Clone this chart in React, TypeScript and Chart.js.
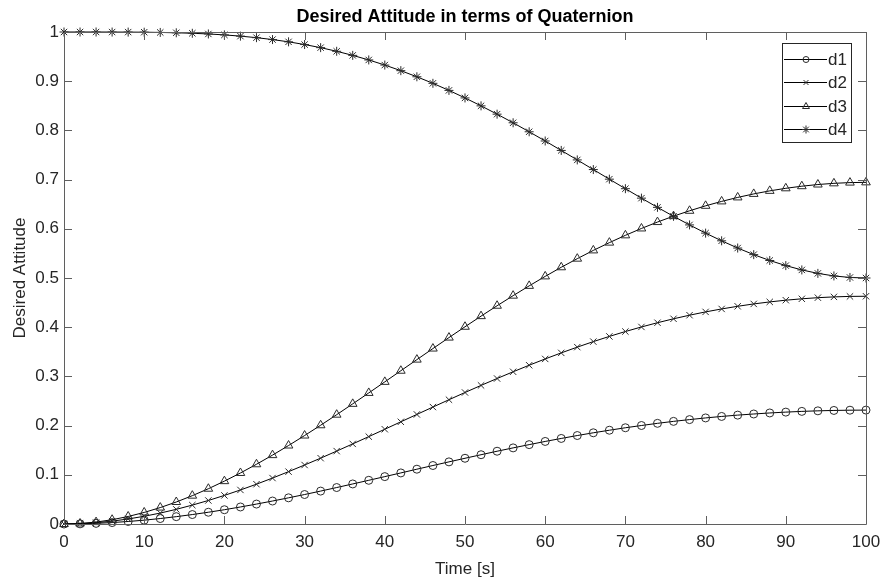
import React, { useEffect, useRef } from "react";
import { Chart, registerables } from "chart.js";

Chart.register(...registerables);

const TITLE = "Desired Attitude in terms of Quaternion";
const X_LABEL = "Time [s]";
const Y_LABEL = "Desired Attitude";

const time = [0,2,4,6,8,10,12,14,16,18,20,22,24,26,28,30,32,34,36,38,40,42,44,46,48,50,52,54,56,58,60,62,64,66,68,70,72,74,76,78,80,82,84,86,88,90,92,94,96,98,100];

const d1 = [0,0.0003,0.0013,0.0029,0.0051,0.0078,0.0111,0.0149,0.0192,0.0239,0.0290,0.0346,0.0405,0.0467,0.0532,0.0599,0.0669,0.0741,0.0814,0.0888,0.0963,0.1038,0.1114,0.1189,0.1263,0.1336,0.1408,0.1479,0.1547,0.1613,0.1678,0.1739,0.1798,0.1854,0.1906,0.1956,0.2002,0.2046,0.2086,0.2122,0.2156,0.2186,0.2213,0.2236,0.2257,0.2274,0.2289,0.2300,0.2308,0.2313,0.2315];
const d2 = [0,0.0007,0.0026,0.0058,0.0102,0.0157,0.0222,0.0298,0.0384,0.0478,0.0581,0.0692,0.0809,0.0934,0.1064,0.1199,0.1338,0.1482,0.1628,0.1776,0.1926,0.2077,0.2227,0.2377,0.2526,0.2673,0.2817,0.2957,0.3094,0.3227,0.3355,0.3478,0.3595,0.3707,0.3813,0.3912,0.4005,0.4091,0.4171,0.4244,0.4311,0.4371,0.4425,0.4473,0.4514,0.4549,0.4577,0.4600,0.4616,0.4626,0.4629];
const d3 = [0,0.0010,0.0039,0.0087,0.0153,0.0235,0.0334,0.0447,0.0576,0.0717,0.0871,0.1037,0.1214,0.1400,0.1595,0.1798,0.2007,0.2222,0.2442,0.2664,0.2889,0.3115,0.3341,0.3566,0.3789,0.4009,0.4225,0.4436,0.4641,0.4840,0.5033,0.5218,0.5393,0.5561,0.5719,0.5867,0.6007,0.6137,0.6257,0.6366,0.6467,0.6557,0.6638,0.6709,0.6771,0.6823,0.6866,0.6900,0.6924,0.6939,0.6944];
const d4 = [1,1.0000,1.0000,0.9999,0.9998,0.9996,0.9991,0.9984,0.9974,0.9960,0.9941,0.9916,0.9885,0.9846,0.9800,0.9745,0.9682,0.9608,0.9525,0.9432,0.9328,0.9214,0.9090,0.8957,0.8813,0.8660,0.8499,0.8330,0.8155,0.7972,0.7785,0.7593,0.7400,0.7204,0.7009,0.6815,0.6623,0.6436,0.6254,0.6079,0.5912,0.5756,0.5609,0.5475,0.5356,0.5252,0.5164,0.5094,0.5042,0.5011,0.5000];

const seriesNames = ["d1", "d2", "d3", "d4"];
const xTicks = [0,10,20,30,40,50,60,70,80,90,100];
const yTicks = [0,0.1,0.2,0.3,0.4,0.5,0.6,0.7,0.8,0.9,1];
const yTickLabels = ["0","0.1","0.2","0.3","0.4","0.5","0.6","0.7","0.8","0.9","1"];

const FONT = '"Liberation Sans", Arial, Helvetica, sans-serif';
const TEXT_COLOR = "#262626";
const AXIS_COLOR = "#5f5f5f";
const MARK_COLOR = "#2a2a2a";

const styles = [
  { pointStyle: "circle", radius: 4, legendRadius: 3 },
  { pointStyle: "crossRot", radius: 4.5, legendRadius: 3.5 },
  { pointStyle: "triangle", radius: 5, legendRadius: 4 },
  { pointStyle: "star", radius: 4.5, legendRadius: 4 },
];

function drawMarker(ctx: CanvasRenderingContext2D, style: string, x: number, y: number, r: number) {
  ctx.beginPath();
  if (style === "circle") {
    ctx.arc(x, y, r, 0, Math.PI * 2);
  } else if (style === "crossRot") {
    const o = Math.cos(Math.PI / 4) * r;
    ctx.moveTo(x - o, y - o); ctx.lineTo(x + o, y + o);
    ctx.moveTo(x - o, y + o); ctx.lineTo(x + o, y - o);
  } else if (style === "triangle") {
    const w = Math.sin(Math.PI / 3) * r;
    ctx.moveTo(x, y - r);
    ctx.lineTo(x + w, y + r / 2);
    ctx.lineTo(x - w, y + r / 2);
    ctx.closePath();
  } else {
    ctx.moveTo(x, y - r); ctx.lineTo(x, y + r);
    ctx.moveTo(x - r, y); ctx.lineTo(x + r, y);
    const o = Math.cos(Math.PI / 4) * r;
    ctx.moveTo(x - o, y - o); ctx.lineTo(x + o, y + o);
    ctx.moveTo(x - o, y + o); ctx.lineTo(x + o, y - o);
  }
  ctx.stroke();
}

const decorPlugin = {
  id: "matlabDecor",
  afterDraw(chart: any) {
    const ctx: CanvasRenderingContext2D = chart.ctx;
    const { left, right, top, bottom } = chart.chartArea;
    const xs = chart.scales.x;
    const ys = chart.scales.y;
    ctx.save();
    ctx.strokeStyle = AXIS_COLOR;
    ctx.lineWidth = 1;
    ctx.beginPath();
    ctx.rect(Math.round(left) + 0.5, Math.round(top) + 0.5, Math.round(right - left), Math.round(bottom - top));
    ctx.stroke();
    const TL = 8;
    ctx.beginPath();
    for (const v of xTicks) {
      const px = Math.round(xs.getPixelForValue(v)) + 0.5;
      ctx.moveTo(px, bottom); ctx.lineTo(px, bottom - TL);
      ctx.moveTo(px, top); ctx.lineTo(px, top + TL);
    }
    for (const v of yTicks) {
      const py = Math.round(ys.getPixelForValue(v)) + 0.5;
      ctx.moveTo(left, py); ctx.lineTo(left + TL, py);
      ctx.moveTo(right, py); ctx.lineTo(right - TL, py);
    }
    ctx.stroke();

    ctx.fillStyle = "#000";
    ctx.font = `bold 18px ${FONT}`;
    ctx.textAlign = "center";
    ctx.textBaseline = "alphabetic";
    ctx.fillText(TITLE, (left + right) / 2, 22);

    ctx.fillStyle = TEXT_COLOR;
    ctx.font = `17px ${FONT}`;
    ctx.fillText(X_LABEL, (left + right) / 2, 574);
    ctx.save();
    ctx.translate(25, (top + bottom) / 2);
    ctx.rotate(-Math.PI / 2);
    ctx.fillText(Y_LABEL, 0, 0);
    ctx.restore();

    const bx = 782, by = 43, bw = 69, bh = 99;
    ctx.fillStyle = "#fff";
    ctx.fillRect(bx, by, bw, bh);
    ctx.strokeStyle = "#262626";
    ctx.strokeRect(bx + 0.5, by + 0.5, bw, bh);
    const rowY = [59, 82, 106, 129];
    ctx.font = `17px ${FONT}`;
    ctx.textAlign = "left";
    ctx.textBaseline = "middle";
    seriesNames.forEach((name, i) => {
      const yy = rowY[i] + 0.5;
      ctx.strokeStyle = "#000";
      ctx.lineWidth = 1;
      ctx.beginPath();
      ctx.moveTo(784, yy); ctx.lineTo(827, yy);
      ctx.stroke();
      ctx.strokeStyle = MARK_COLOR;
      drawMarker(ctx, styles[i].pointStyle, 806, yy, styles[i].legendRadius);
      ctx.fillStyle = TEXT_COLOR;
      ctx.fillText(name, 828, rowY[i] + 1);
    });
    ctx.restore();
  },
};

export default function App() {
  const ref = useRef<HTMLCanvasElement | null>(null);
  useEffect(() => {
    if (!ref.current) return;
    const seriesValues = [d1, d2, d3, d4];
    const datasets = seriesValues.map((vals, i) => ({
      label: seriesNames[i],
      data: time.map((t, k) => ({ x: t, y: vals[k] })),
      borderColor: "#000",
      borderWidth: 1,
      backgroundColor: "rgba(0,0,0,0)",
      pointStyle: styles[i].pointStyle,
      pointRadius: styles[i].radius,
      pointBorderColor: MARK_COLOR,
      pointBackgroundColor: "rgba(0,0,0,0)",
      pointBorderWidth: 1,
      tension: 0,
      clip: false as any,
      order: 4 - i,
    }));
    const chart = new Chart(ref.current, {
      type: "line",
      data: { datasets },
      options: {
        animation: false,
        responsive: false,
        devicePixelRatio: 1,
        layout: { padding: { top: 32, right: 17, left: 0, bottom: 0 } },
        plugins: { legend: { display: false }, title: { display: false }, tooltip: { enabled: false } },
        scales: {
          x: {
            type: "linear",
            min: 0,
            max: 100,
            afterBuildTicks: (s: any) => { s.ticks = xTicks.map((v) => ({ value: v })); },
            afterFit: (s: any) => { s.height = 59; s.paddingLeft = 0; s.paddingRight = 0; },
            grid: { display: false, drawTicks: false },
            border: { display: false },
            ticks: {
              padding: 8,
              color: TEXT_COLOR,
              font: { family: FONT, size: 17 },
              maxRotation: 0,
              callback: (v: any) => String(v),
            },
          },
          y: {
            type: "linear",
            min: 0,
            max: 1,
            afterBuildTicks: (s: any) => { s.ticks = yTicks.map((v) => ({ value: v })); },
            afterFit: (s: any) => { s.width = 64; s.paddingTop = 0; s.paddingBottom = 0; },
            grid: { display: false, drawTicks: false },
            border: { display: false },
            ticks: {
              padding: 5,
              color: TEXT_COLOR,
              font: { family: FONT, size: 17 },
              callback: (v: any) => {
                const idx = yTicks.findIndex((t) => Math.abs(t - v) < 1e-9);
                return idx >= 0 ? yTickLabels[idx] : "";
              },
            },
          },
        },
      },
      plugins: [decorPlugin],
    });
    return () => chart.destroy();
  }, []);
  return (
    <div style={{ position: "absolute", left: 0, top: 0, width: 883, height: 583, background: "#fff" }}>
      <canvas ref={ref} width={883} height={583} style={{ display: "block", width: 883, height: 583 }} />
    </div>
  );
}
